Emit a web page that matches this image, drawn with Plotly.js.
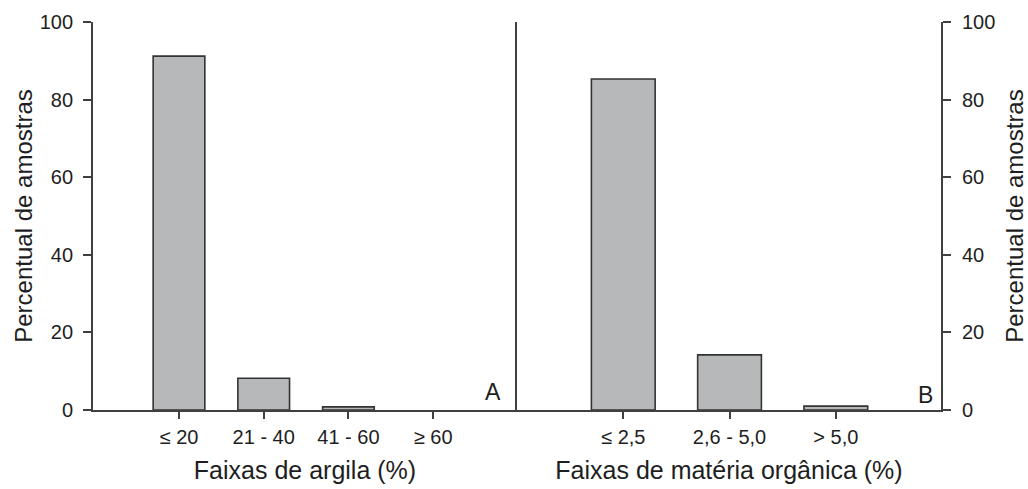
<!DOCTYPE html>
<html>
<head>
<meta charset="utf-8">
<script src="https://cdn.plot.ly/plotly-3.0.1.min.js"></script>
<style>html,body{margin:0;padding:0;background:#fff;}#chart{width:1028px;height:489px;}</style>
</head>
<body>
<div id="chart"></div>
<script>
const argilaCats = ["≤ 20", "21 - 40", "41 - 60", "≥ 60"];
const argilaVals = [91.2, 8.2, 0.8, 0];
const moCats = ["≤ 2,5", "2,6 - 5,0", "> 5,0"];
const moVals = [85.3, 14.2, 1.0];
const yTicks = [0, 20, 40, 60, 80, 100];

const FONT = "Liberation Sans, Arial, sans-serif";
const AX = "#404040";
const TXT = "#1e1e1e";

const traces = [
  {type: "bar", x: argilaCats, y: argilaVals, xaxis: "x", yaxis: "y", width: 0.61,
   marker: {color: "#b6b8ba", line: {color: "#333333", width: argilaVals.map(v => v > 0 ? 1.6 : 0)}}, hoverinfo: "x+y"},
  {type: "bar", x: moCats, y: moVals, xaxis: "x2", yaxis: "y2", width: 0.6,
   marker: {color: "#b6b8ba", line: {color: "#333333", width: 1.6}}, hoverinfo: "x+y"}
];

const xCommon = {
  type: "category", showline: true, linecolor: AX, linewidth: 1.8,
  ticks: "outside", ticklen: 7, tickwidth: 1.8, tickcolor: AX,
  showgrid: false, zeroline: false, fixedrange: true,
  tickfont: {family: FONT, size: 20, color: TXT}, ticklabelstandoff: 1
};
const yCommon = {
  range: [0, 100], tickvals: yTicks, showline: true, linecolor: AX, linewidth: 1.8,
  ticks: "outside", ticklen: 8, tickwidth: 1.8, tickcolor: AX,
  showgrid: false, zeroline: false, fixedrange: true,
  tickfont: {family: FONT, size: 20, color: TXT}
};

const layout = {
  width: 1028, height: 489,
  margin: {l: 93, r: 87, t: 22, b: 79},
  paper_bgcolor: "#ffffff", plot_bgcolor: "#ffffff",
  showlegend: false,
  font: {family: FONT, color: TXT},
  xaxis: Object.assign({}, xCommon, {domain: [0, 0.5], anchor: "y", range: [-1.015, 3.99],
    title: {text: "Faixas de argila (%)", font: {family: FONT, size: 25, color: TXT}, standoff: 15}}),
  xaxis2: Object.assign({}, xCommon, {domain: [0.5, 1], anchor: "y2", range: [-1, 2.99],
    title: {text: "Faixas de matéria orgânica (%)", font: {family: FONT, size: 25, color: TXT}, standoff: 15}}),
  yaxis: Object.assign({}, yCommon, {anchor: "x", side: "left", ticklabelstandoff: 6,
    title: {text: "Percentual de amostras", font: {family: FONT, size: 24, color: TXT}, standoff: 0}}),
  yaxis2: Object.assign({}, yCommon, {anchor: "x2", side: "right", mirror: true, ticklabelstandoff: 7,
    title: {text: "Percentual de amostras", font: {family: FONT, size: 24, color: TXT}, standoff: 17}}),
  annotations: [
    {text: "A", xref: "paper", yref: "y", x: 0.4717, y: 4.7, xanchor: "center", yanchor: "middle", showarrow: false, font: {family: FONT, size: 23, color: TXT}},
    {text: "B", xref: "paper", yref: "y2", x: 0.982, y: 3.8, xanchor: "center", yanchor: "middle", showarrow: false, font: {family: FONT, size: 23, color: TXT}}
  ]
};

Plotly.newPlot("chart", traces, layout, {displayModeBar: false});
</script>
</body>
</html>
